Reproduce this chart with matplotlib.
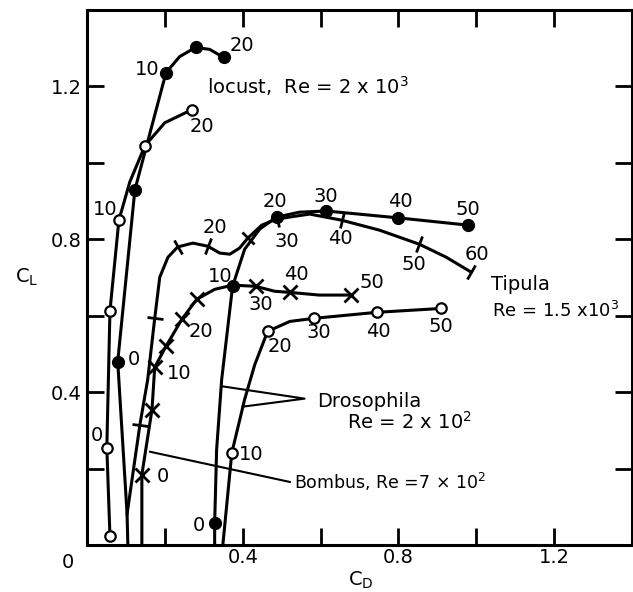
import numpy as np
import matplotlib.pyplot as plt
from matplotlib.markers import MarkerStyle
from matplotlib.transforms import Affine2D

# ---- data (C_D, C_L) ----
# locust, filled circles
loc_f_cd = [0.105, 0.103, 0.079, 0.123, 0.203, 0.238, 0.279, 0.315, 0.351]
loc_f_cl = [0.0, 0.081, 0.480, 0.929, 1.236, 1.278, 1.302, 1.297, 1.276]
loc_f_mk_cd = [0.079, 0.123, 0.203, 0.279, 0.351]
loc_f_mk_cl = [0.480, 0.929, 1.236, 1.302, 1.276]

# locust, open circles
loc_o_cd = [0.059, 0.051, 0.059, 0.082, 0.110, 0.149, 0.200, 0.269]
loc_o_cl = [0.024, 0.255, 0.612, 0.850, 0.950, 1.045, 1.105, 1.139]
loc_o_mk_cd = [0.059, 0.051, 0.059, 0.082, 0.149, 0.269]
loc_o_mk_cl = [0.024, 0.255, 0.612, 0.850, 1.045, 1.139]

# Bombus, crosses
bom_cd = [0.141, 0.141, 0.167, 0.174, 0.203, 0.244, 0.282, 0.328, 0.374, 0.433, 0.482, 0.521, 0.597, 0.679]
bom_cl = [0.0, 0.184, 0.354, 0.465, 0.520, 0.591, 0.643, 0.669, 0.680, 0.677, 0.664, 0.661, 0.654, 0.654]
bom_mk_cd = [0.141, 0.167, 0.174, 0.203, 0.244, 0.282, 0.433, 0.521, 0.679]
bom_mk_cl = [0.184, 0.354, 0.465, 0.520, 0.591, 0.643, 0.677, 0.661, 0.654]

# Tipula, tick marks
tip_cd = [0.103, 0.136, 0.156, 0.174, 0.187, 0.208, 0.233, 0.272, 0.310, 0.341, 0.367, 0.392,
          0.413, 0.449, 0.487, 0.572, 0.654, 0.751, 0.854, 0.923, 0.987]
tip_cl = [0.081, 0.315, 0.433, 0.593, 0.701, 0.753, 0.780, 0.790, 0.782, 0.764, 0.761, 0.777,
          0.803, 0.837, 0.853, 0.866, 0.850, 0.824, 0.787, 0.753, 0.714]
tip_tick_idx = [1, 3, 6, 8, 12, 14, 16, 18, 20]

# Drosophila, filled circles
dro_f_cd = [0.328, 0.328, 0.333, 0.346, 0.374, 0.405, 0.444, 0.487, 0.546, 0.615, 0.800, 0.979]
dro_f_cl = [0.0, 0.058, 0.249, 0.433, 0.677, 0.774, 0.827, 0.858, 0.871, 0.874, 0.856, 0.837]
dro_f_mk_cd = [0.328, 0.374, 0.487, 0.615, 0.800, 0.979]
dro_f_mk_cl = [0.058, 0.677, 0.858, 0.874, 0.856, 0.837]

# Drosophila, open circles
dro_o_cd = [0.349, 0.372, 0.405, 0.431, 0.464, 0.521, 0.582, 0.746, 0.910]
dro_o_cl = [0.0, 0.241, 0.381, 0.472, 0.559, 0.585, 0.593, 0.609, 0.619]
dro_o_mk_cd = [0.372, 0.464, 0.582, 0.746, 0.910]
dro_o_mk_cl = [0.241, 0.559, 0.593, 0.609, 0.619]

# angle-of-attack labels (text, C_D, C_L of the label)
angle_labels = [
    ("0", 0.121, 0.486), ("10", 0.154, 1.244), ("20", 0.397, 1.307),          # locust filled
    ("0", 0.026, 0.286), ("10", 0.046, 0.877), ("20", 0.295, 1.094),          # locust open
    ("0", 0.195, 0.178), ("10", 0.236, 0.449), ("20", 0.292, 0.559),          # Bombus
    ("30", 0.446, 0.630), ("40", 0.538, 0.709), ("50", 0.731, 0.688),
    ("20", 0.328, 0.832), ("30", 0.513, 0.795), ("40", 0.651, 0.801),         # Tipula
    ("50", 0.841, 0.735), ("60", 1.003, 0.761),
    ("0", 0.287, 0.052), ("10", 0.341, 0.703), ("20", 0.482, 0.898),          # Drosophila filled
    ("30", 0.613, 0.913), ("40", 0.805, 0.900), ("50", 0.979, 0.879),
    ("10", 0.423, 0.236), ("20", 0.495, 0.520), ("30", 0.595, 0.556),         # Drosophila open
    ("40", 0.749, 0.559), ("50", 0.910, 0.572),
]

tick_vals = [0.2, 0.4, 0.6, 0.8, 1.0, 1.2]
tick_text = ["", "0.4", "", "0.8", "", "1.2"]

FS = 14
LW = 2.2
plt.rcParams['font.family'] = ['DejaVu Sans']
plt.rcParams['mathtext.fontset'] = 'dejavusans'

fig = plt.figure(figsize=(6.33, 5.92), dpi=100)
ax = fig.add_axes([0.1374, 0.0794, 0.8610, 0.9037])
ax.set_xlim(0, 1.4)
ax.set_ylim(0, 1.4)

for s in ax.spines.values():
    s.set_linewidth(LW)
ax.set_xticks(tick_vals)
ax.set_xticklabels(tick_text)
ax.set_yticks(tick_vals)
ax.set_yticklabels(tick_text)
ax.tick_params(direction='in', length=12, width=2, top=True, right=True, labelsize=FS)
ax.tick_params(axis='x', pad=2)
ax.tick_params(axis='y', pad=4)

# curves
ax.plot(loc_f_cd, loc_f_cl, color='k', lw=LW, zorder=2)
ax.plot(loc_f_mk_cd, loc_f_mk_cl, 'o', color='k', ms=8.5, zorder=3)
ax.plot(loc_o_cd, loc_o_cl, color='k', lw=LW, zorder=2)
ax.plot(loc_o_mk_cd, loc_o_mk_cl, 'o', mfc='white', mec='k', mew=1.6, ms=7.5, zorder=3)

ax.plot(bom_cd, bom_cl, color='k', lw=LW, zorder=2)
ax.plot(bom_mk_cd, bom_mk_cl, 'x', color='k', ms=10, mew=2, zorder=3)

ax.plot(tip_cd, tip_cl, color='k', lw=LW, zorder=2)
# ticks across the Tipula curve, perpendicular to the local direction
fig.canvas.draw()
pts = ax.transData.transform(np.column_stack([tip_cd, tip_cl]))
for i in tip_tick_idx:
    a = max(i - 1, 0)
    b = min(i + 1, len(tip_cd) - 1)
    dx, dy = pts[b] - pts[a]
    ang = np.degrees(np.arctan2(dy, dx))
    m = MarkerStyle('|', transform=Affine2D().rotate_deg(ang))
    ax.plot(tip_cd[i], tip_cl[i], marker=m, color='k', ms=12, mew=2, zorder=3)

ax.plot(dro_f_cd, dro_f_cl, color='k', lw=LW, zorder=2)
ax.plot(dro_f_mk_cd, dro_f_mk_cl, 'o', color='k', ms=8.5, zorder=3)
ax.plot(dro_o_cd, dro_o_cl, color='k', lw=LW, zorder=2)
ax.plot(dro_o_mk_cd, dro_o_mk_cl, 'o', mfc='white', mec='k', mew=1.6, ms=7.5, zorder=3)

for txt, x, y in angle_labels:
    ax.text(x, y, txt, fontsize=FS, ha='center', va='center')

# species labels and leader lines
ax.text(0.308, 1.202, r'locust,  Re = 2 x 10$^3$', fontsize=FS, va='center')
ax.text(1.038, 0.682, 'Tipula', fontsize=FS, va='center')
ax.text(1.041, 0.612, r'Re = 1.5 x10$^3$', fontsize=13, va='center')
ax.text(0.590, 0.375, 'Drosophila', fontsize=FS, va='center')
ax.text(0.667, 0.323, r'Re = 2 x 10$^2$', fontsize=FS, va='center')
ax.text(0.533, 0.165, r'Bombus, Re =7 $\times$ 10$^2$', fontsize=12.5, va='center')
ax.plot([0.349, 0.559, 0.400], [0.415, 0.383, 0.362], color='k', lw=1.5)
ax.plot([0.162, 0.521], [0.244, 0.165], color='k', lw=1.5)

fig.text(68 / 633, 1 - 562 / 592, '0', fontsize=FS, ha='center', va='center')
fig.text(27 / 633, 1 - 277 / 592, r'C$_\mathregular{L}$', fontsize=FS, ha='center', va='center')
fig.text(361 / 633, 1 - 580 / 592, r'C$_\mathregular{D}$', fontsize=FS, ha='center', va='center')

fig.savefig('out.png', dpi=100)
